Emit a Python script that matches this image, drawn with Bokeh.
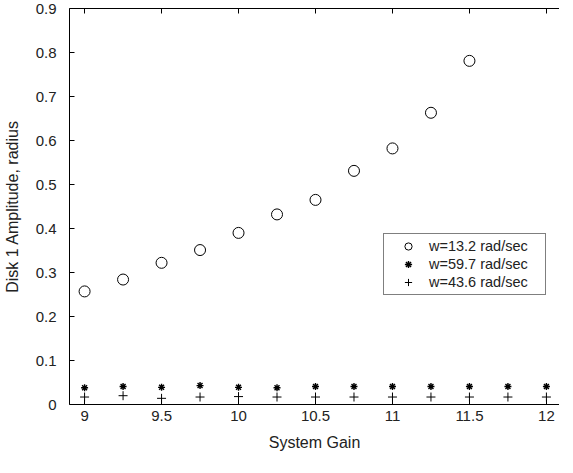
from bokeh.plotting import figure
from bokeh.models import (Range1d, FixedTicker, CustomJSTickFormatter, LinearAxis,
                          Legend, LegendItem)
from bokeh.embed import file_html
from bokeh.resources import INLINE

# ---- data ----
gain_circ = [9, 9.25, 9.5, 9.75, 10, 10.25, 10.5, 10.75, 11, 11.25, 11.5]
amp_w132 = [0.257, 0.284, 0.322, 0.351, 0.390, 0.432, 0.465, 0.531, 0.582, 0.663, 0.781]

gain_low = [9, 9.25, 9.5, 9.75, 10, 10.25, 10.5, 10.75, 11, 11.25, 11.5, 11.75, 12]
amp_w597 = [0.038, 0.041, 0.039, 0.043, 0.039, 0.038, 0.041, 0.041, 0.041, 0.041, 0.041, 0.041, 0.041]
amp_w436 = [0.017, 0.020, 0.014, 0.017, 0.018, 0.017, 0.017, 0.017, 0.017, 0.017, 0.017, 0.017, 0.017]

x_ticks = [9, 9.5, 10, 10.5, 11, 11.5, 12]
y_ticks = [0, 0.1, 0.2, 0.3, 0.4, 0.5, 0.6, 0.7, 0.8, 0.9]

labels = ["w=13.2 rad/sec", "w=59.7 rad/sec", "w=43.6 rad/sec"]

FONT = "Liberation Sans"
TXT = "#222222"

p = figure(frame_width=490, frame_height=396, output_backend="svg", toolbar_location=None,
           x_range=Range1d(8.902, 12.085), y_range=Range1d(0, 0.9),
           min_border_left=67, min_border_right=0, min_border_top=8, min_border_bottom=53)
p.background_fill_color = "white"
p.border_fill_color = "white"
p.grid.visible = False
p.outline_line_color = None  # frame drawn by the axes; right edge lies beyond the crop

fmt = CustomJSTickFormatter(code="return parseFloat(tick.toFixed(2)).toString();")
blank = CustomJSTickFormatter(code="return '';")

for ax in (p.xaxis[0], p.yaxis[0]):
    ax.major_tick_in = 5
    ax.major_tick_out = 0
    ax.minor_tick_in = 0
    ax.minor_tick_out = 0
    ax.axis_line_color = "black"
    ax.major_tick_line_color = "black"
    ax.major_label_text_font = FONT
    ax.major_label_text_font_size = "15px"
    ax.major_label_text_color = TXT
    ax.axis_label_text_font = FONT
    ax.axis_label_text_font_size = "16px"
    ax.axis_label_text_font_style = "normal"
    ax.axis_label_text_color = TXT
    ax.formatter = fmt

p.xaxis.ticker = FixedTicker(ticks=x_ticks)
p.yaxis.ticker = FixedTicker(ticks=y_ticks)
p.xaxis.axis_label = "System Gain"
p.yaxis.axis_label = "Disk 1 Amplitude, radius"
p.xaxis.major_label_standoff = 6
p.yaxis.major_label_standoff = 13
p.xaxis.axis_label_standoff = 10
p.yaxis.axis_label_standoff = 12

# top border with mirrored inward ticks (no labels)
top = LinearAxis(ticker=FixedTicker(ticks=x_ticks), formatter=blank,
                 major_label_text_font_size="6px",
                 major_tick_in=5, major_tick_out=0, minor_tick_in=0, minor_tick_out=0,
                 axis_line_color="black", major_tick_line_color="black",
                 major_label_standoff=0)
p.add_layout(top, "above")

r1 = p.scatter(gain_circ, amp_w132, marker="circle", size=11, fill_color=None,
               line_color="black", line_width=1)
r2 = p.scatter(gain_low, amp_w597, marker="asterisk", size=7,
               line_color="black", line_width=1.4)
r3 = p.scatter(gain_low, amp_w436, marker="cross", size=9,
               line_color="black", line_width=1)

legend = Legend(items=[LegendItem(label=labels[0], renderers=[r1]),
                       LegendItem(label=labels[1], renderers=[r2]),
                       LegendItem(label=labels[2], renderers=[r3])],
                location=(314, 109))
legend.border_line_color = "black"
legend.border_line_width = 1
legend.background_fill_color = "white"
legend.background_fill_alpha = 1
legend.padding = 3
legend.spacing = 0
legend.margin = 0
legend.label_height = 18
legend.glyph_height = 18
legend.glyph_width = 42
legend.label_standoff = 0
legend.label_width = 113
legend.label_text_font = FONT
legend.label_text_font_size = "14.5px"
legend.label_text_color = TXT
p.add_layout(legend, "center")

open("out.html", "w").write(file_html(p, INLINE))
